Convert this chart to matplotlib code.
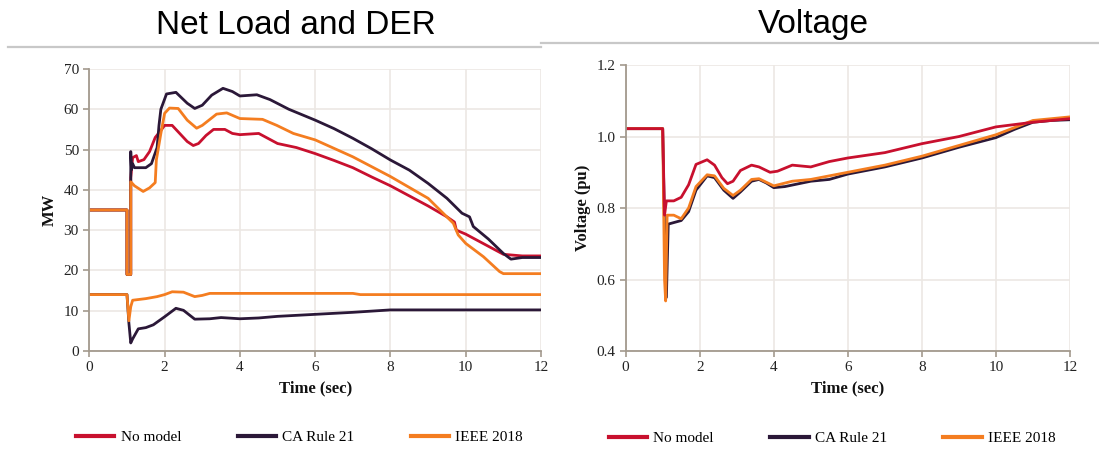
"""Net load / DER and voltage response for three DER models."""
import matplotlib
matplotlib.use("Agg")
import matplotlib.pyplot as plt
from matplotlib.lines import Line2D

RED = "#C8102E"
PURPLE = "#2B1838"
ORANGE = "#F47D20"
LABELS = ["No model", "CA Rule 21", "IEEE 2018"]

# --- net load (MW) ---
t_load_none = [0, 1.0, 1.0, 1.1, 1.1, 1.15, 1.25, 1.3, 1.45, 1.6, 1.75, 1.88, 2.0, 2.2,
               2.4, 2.6, 2.76, 2.9, 3.1, 3.3, 3.6, 3.8, 4.0, 4.5, 4.8, 5.0, 5.5, 6.0,
               6.5, 7.0, 7.5, 8.0, 8.5, 9.0, 9.5, 9.7, 9.75, 10.0, 10.5, 11.0, 11.5, 12.0]
load_none = [35, 35, 19, 19, 43, 48, 48.5, 47, 47.5, 49.5, 53, 54.5, 56, 56,
             54, 52, 51, 51.5, 53.5, 55, 55, 54, 53.7, 54, 52.5, 51.5, 50.5, 49,
             47.3, 45.5, 43.2, 41, 38.5, 36, 33.3, 32, 30, 29, 26.5, 24, 23.6, 23.6]

t_load_rule21 = [0, 1.0, 1.0, 1.1, 1.1, 1.12, 1.15, 1.2, 1.5, 1.65, 1.8, 1.85, 1.9, 2.05,
                 2.3, 2.6, 2.8, 3.0, 3.25, 3.55, 3.8, 4.0, 4.45, 4.8, 5.3, 6.0, 6.5, 7.0,
                 7.5, 8.0, 8.5, 9.0, 9.5, 9.9, 10.1, 10.2, 10.6, 11.0, 11.2, 11.5, 12.0]
load_rule21 = [35, 35, 19, 19, 49.5, 45, 46.5, 45.5, 45.5, 46.5, 50.5, 56, 60, 63.8,
               64.2, 61.5, 60.2, 61, 63.5, 65.2, 64.4, 63.3, 63.6, 62.4, 60, 57.3, 55.2, 52.8,
               50.2, 47.4, 44.9, 41.6, 37.9, 34.2, 33.3, 30.9, 27.8, 24.2, 22.8, 23.2, 23.2]

t_load_ieee = [0, 1.0, 1.0, 1.1, 1.1, 1.2, 1.43, 1.6, 1.75, 1.78, 1.9, 2.0, 2.13, 2.36,
               2.6, 2.85, 3.0, 3.38, 3.65, 4.0, 4.6, 4.98, 5.42, 6.0, 7.0, 8.0, 9.0,
               9.67, 9.8, 10.0, 10.47, 10.9, 11.0, 12.0]
load_ieee = [35, 35, 19, 19, 42, 41, 39.6, 40.5, 41.8, 47.4, 54, 59, 60.3, 60.2,
             57.3, 55.3, 56, 58.8, 59.1, 57.7, 57.5, 56, 54, 52.4, 48.2, 43.3, 37.9,
             31.7, 28.8, 26.7, 23.4, 19.7, 19.2, 19.2]

# --- DER output (MW) ---
t_der_rule21 = [0, 1.0, 1.05, 1.1, 1.15, 1.3, 1.5, 1.7, 2.0, 2.3, 2.5, 2.8, 3.2, 3.5,
                4.0, 4.5, 5.0, 6.0, 7.0, 8.0, 12.0]
der_rule21 = [14, 14, 7, 2, 3, 5.5, 5.8, 6.5, 8.5, 10.6, 10.1, 7.9, 8.0, 8.3,
              8.0, 8.2, 8.6, 9.1, 9.6, 10.2, 10.2]

t_der_ieee = [0, 1.0, 1.05, 1.1, 1.15, 1.5, 1.8, 2.0, 2.2, 2.5, 2.8, 3.0, 3.2, 7.0, 7.2, 12.0]
der_ieee = [14, 14, 7.5, 11, 12.6, 13, 13.5, 14, 14.7, 14.6, 13.5, 13.8, 14.3, 14.3, 14.0, 14.0]

# --- voltage (pu) ---
t_v_none = [0, 1.0, 1.05, 1.1, 1.3, 1.5, 1.7, 1.9, 2.2, 2.4, 2.6, 2.75, 2.9, 3.1, 3.4,
            3.6, 3.9, 4.1, 4.5, 5.0, 5.5, 6.0, 7.0, 8.0, 9.0, 10.0, 11.0, 12.0]
v_none = [1.022, 1.022, 0.78, 0.82, 0.82, 0.83, 0.865, 0.922, 0.935, 0.92, 0.885, 0.868,
          0.875, 0.905, 0.92, 0.915, 0.9, 0.903, 0.92, 0.915, 0.93, 0.94, 0.955, 0.98,
          1.0, 1.027, 1.04, 1.05]

t_v_rule21 = [0, 1.0, 1.05, 1.1, 1.15, 1.5, 1.7, 1.9, 2.2, 2.4, 2.65, 2.9, 3.1, 3.4, 3.6,
              3.8, 4.0, 4.3, 5.0, 5.5, 6.0, 7.0, 8.0, 9.0, 10.0, 10.5, 11.0, 11.5, 12.0]
v_rule21 = [1.022, 1.022, 0.75, 0.55, 0.755, 0.765, 0.79, 0.85, 0.89, 0.885, 0.85, 0.827,
            0.845, 0.875, 0.88, 0.87, 0.857, 0.86, 0.875, 0.88, 0.895, 0.915, 0.94, 0.97,
            0.997, 1.02, 1.04, 1.045, 1.047]

t_v_ieee = [0, 1.0, 1.05, 1.08, 1.12, 1.3, 1.5, 1.7, 1.9, 2.2, 2.4, 2.65, 2.9, 3.1, 3.4,
            3.6, 4.0, 4.5, 5.0, 6.0, 7.0, 8.0, 9.0, 10.0, 10.5, 11.0, 12.0]
v_ieee = [1.022, 1.022, 0.6, 0.54, 0.78, 0.78, 0.77, 0.8, 0.86, 0.893, 0.89, 0.855, 0.835,
          0.85, 0.88, 0.882, 0.862, 0.875, 0.88, 0.9, 0.92, 0.945, 0.975, 1.005, 1.025,
          1.045, 1.055]

SERIF = "Liberation Serif"
SANS = "Liberation Sans"
LW = 2.0


def style_axes(ax, ylim, yticks, yfmt, ylabel, legend_x):
    ax.set_xlim(0, 12)
    ax.set_ylim(*ylim)
    ax.set_xticks(range(0, 13, 2))
    ax.set_yticks(yticks)
    ax.set_yticklabels([yfmt.format(v) for v in yticks])
    ax.grid(True, color="#ECE8E4", linewidth=1.2)
    ax.set_axisbelow(True)
    for side in ("top", "right"):
        ax.spines[side].set_visible(False)
    for side in ("left", "bottom"):
        ax.spines[side].set_color("#A39A8E")
        ax.spines[side].set_linewidth(1.3)
    ax.tick_params(colors="#A39A8E", length=4, width=1.2, labelcolor="#222222",
                   labelsize=11)
    for lab in ax.get_xticklabels() + ax.get_yticklabels():
        lab.set_family(SERIF)
    ax.set_xlabel("Time (sec)", family=SERIF, fontweight="bold", fontsize=12,
                  color="#111111", labelpad=4)
    ax.set_ylabel(ylabel, family=SERIF, fontweight="bold", fontsize=12,
                  color="#111111", labelpad=4)
    handles = [Line2D([], [], color=c, lw=3) for c in (RED, PURPLE, ORANGE)]
    ax.legend(handles, LABELS, loc="center", bbox_to_anchor=(legend_x, -0.305), ncol=3,
              frameon=False, handlelength=2.5, handletextpad=0.4, columnspacing=3.7,
              prop={"family": SERIF, "size": 11})


fig = plt.figure(figsize=(10.99, 4.68), dpi=100)
ax1 = fig.add_axes([0.0813, 0.25, 0.411, 0.6026])
ax2 = fig.add_axes([0.5693, 0.25, 0.4043, 0.611])

ax1.plot(t_load_none, load_none, color=RED, lw=LW)
ax1.plot(t_load_rule21, load_rule21, color=PURPLE, lw=LW)
ax1.plot(t_der_rule21, der_rule21, color=PURPLE, lw=LW)
ax1.plot(t_load_ieee, load_ieee, color=ORANGE, lw=LW)
ax1.plot(t_der_ieee, der_ieee, color=ORANGE, lw=LW)
style_axes(ax1, (0, 70), list(range(0, 71, 10)), "{:d}", "MW", 0.465)

ax2.plot(t_v_rule21, v_rule21, color=PURPLE, lw=LW)
ax2.plot(t_v_ieee, v_ieee, color=ORANGE, lw=LW)
ax2.plot(t_v_none, v_none, color=RED, lw=LW)
style_axes(ax2, (0.4, 1.2), [0.4, 0.6, 0.8, 1.0, 1.2], "{:.1f}", "Voltage (pu)", 0.465)

# panel headings with thin rules underneath
fig.text(296 / 1099, 1 - 26 / 468, "Net Load and DER", family=SANS, fontsize=24,
         ha="center", va="center")
fig.text(813 / 1099, 1 - 24 / 468, "Voltage", family=SANS, fontsize=24,
         ha="center", va="center")
fig.add_artist(Line2D([8 / 1099, 541 / 1099], [1 - 47 / 468] * 2,
                      color="#C8C8C8", lw=1.6))
fig.add_artist(Line2D([541 / 1099, 1.0], [1 - 43 / 468] * 2,
                      color="#C8C8C8", lw=1.6))

fig.savefig("out.png", dpi=100)
